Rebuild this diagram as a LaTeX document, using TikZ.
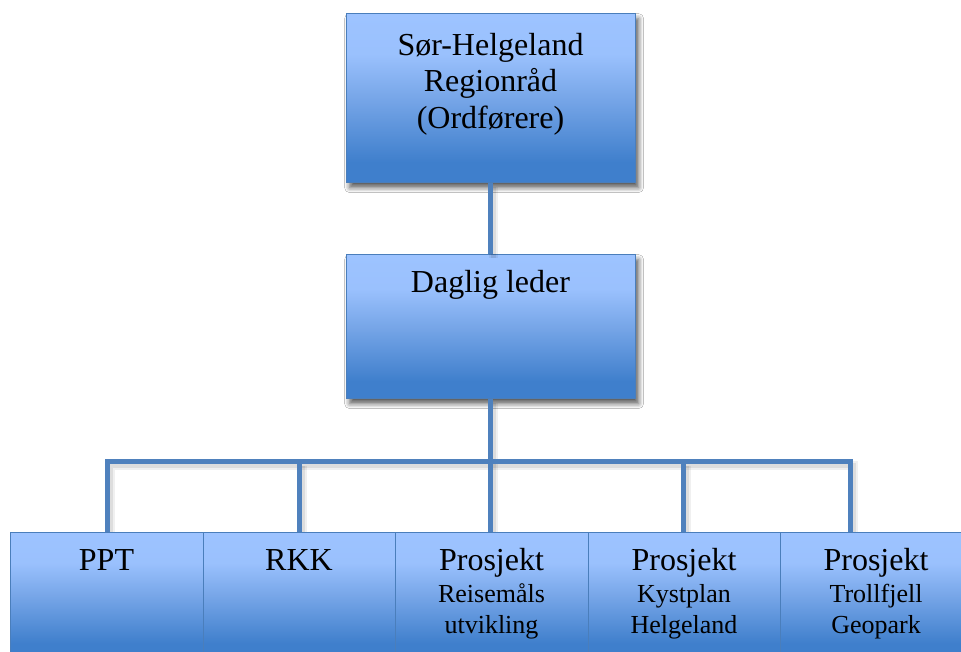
\documentclass[tikz,border=0pt]{standalone}
\usepackage{fontspec}
\setmainfont{Liberation Serif}
\usetikzlibrary{shadows.blur}
\definecolor{boxlight}{HTML}{9DC3FF}
\definecolor{boxmid}{HTML}{77A6E8}
\definecolor{boxdark}{HTML}{3F7FCC}
\definecolor{boxline}{HTML}{4A7EBB}
\definecolor{conn}{HTML}{4F81BD}
\pgfdeclareverticalshading{boxgrad}{100bp}{color(0bp)=(boxdark); color(25bp)=(boxdark); color(31bp)=(boxdark); color(50bp)=(boxmid); color(63bp)=(boxlight!92!boxmid); color(75bp)=(boxlight); color(100bp)=(boxlight)}
\tikzset{
  orgbox/.style={draw=boxline, line width=1.2pt, shading=boxgrad, anchor=north west, inner sep=0pt},
  shadowed/.style={blur shadow={shadow xshift=3pt, shadow yshift=-5pt, shadow blur radius=5pt, shadow opacity=65}},
  conline/.style={draw=conn, line width=5pt},
  conshadow/.style={draw=black, line width=9pt, opacity=0.06, transform canvas={xshift=3pt, yshift=-4pt}},
  conshadowin/.style={draw=black, line width=5pt, opacity=0.08, transform canvas={xshift=3pt, yshift=-4pt}},
  maintext/.style={anchor=base, inner sep=0pt, font=\fontsize{32}{36.7}\selectfont},
  subtext/.style={anchor=base, inner sep=0pt, font=\fontsize{26}{31}\selectfont}
}
\begin{document}
\begin{tikzpicture}[x=1pt, y=-1pt]
\useasboundingbox (0,0) rectangle (961,651);
\clip (0,0) rectangle (961,651);
\fill[white] (0,0) rectangle (961,651);

% boxes
\node[orgbox, shadowed, minimum width=289, minimum height=169] (top) at (346,13) {};
\node[orgbox, shadowed, minimum width=289, minimum height=144] (mid) at (346,254) {};

% connector coordinates
\coordinate (bus) at (490.5,461.5);
\coordinate (d1) at (107.5,532);
\coordinate (d2) at (299.5,532);
\coordinate (d3) at (490.5,532);
\coordinate (d4) at (683,532);
\coordinate (d5) at (850.5,532);

% connector shadows
\foreach \s in {conshadow, conshadowin}{
  \draw[\s] (top.south -| bus) -- (mid.north -| bus);
  \draw[\s] (d1) -- (bus -| d1) -- (bus -| d5) -- (d5);
  \draw[\s] (bus -| d2) -- (d2);
  \draw[\s] (bus -| d4) -- (d4);
  \draw[\s] (mid.south -| bus) -- (d3);
}

% bottom boxes
\node[orgbox, minimum width=193, minimum height=126] (b1) at (10,532) {};
\node[orgbox, minimum width=192, minimum height=126] (b2) at (203,532) {};
\node[orgbox, minimum width=193, minimum height=126] (b3) at (395,532) {};
\node[orgbox, minimum width=192, minimum height=126] (b4) at (588,532) {};
\node[orgbox, minimum width=193, minimum height=126] (b5) at (780,532) {};

% connectors
\draw[conline] (top.south -| bus) -- (mid.north -| bus);
\draw[conline] (mid.south -| bus) -- (bus) -- (d3);
\draw[conline, line join=miter] (d1) -- (bus -| d1) -- (bus -| d5) -- (d5);
\draw[conline] (bus -| d2) -- (d2);
\draw[conline] (bus -| d4) -- (d4);

% texts
\node[maintext] (ttop) at (490.5,55) {\begin{tabular}[t]{@{}c@{}}Sør-Helgeland\\Regionråd\\(Ordførere)\end{tabular}};
\node[maintext] (tmid) at (490.5,292) {Daglig leder};
\node[maintext] (tb1) at (106.5,570) {PPT};
\node[maintext] (tb2) at (299,570) {RKK};
\node[maintext] (tb3) at (491.5,570) {Prosjekt};
\node[subtext] (sb3) at (491.5,602) {\begin{tabular}[t]{@{}c@{}}Reisemåls\\utvikling\end{tabular}};
\node[maintext] (tb4) at (684,570) {Prosjekt};
\node[subtext] (sb4) at (684,602) {\begin{tabular}[t]{@{}c@{}}Kystplan\\Helgeland\end{tabular}};
\node[maintext] (tb5) at (876,570) {Prosjekt};
\node[subtext] (sb5) at (876,602) {\begin{tabular}[t]{@{}c@{}}Trollfjell\\Geopark\end{tabular}};
\end{tikzpicture}
\end{document}
